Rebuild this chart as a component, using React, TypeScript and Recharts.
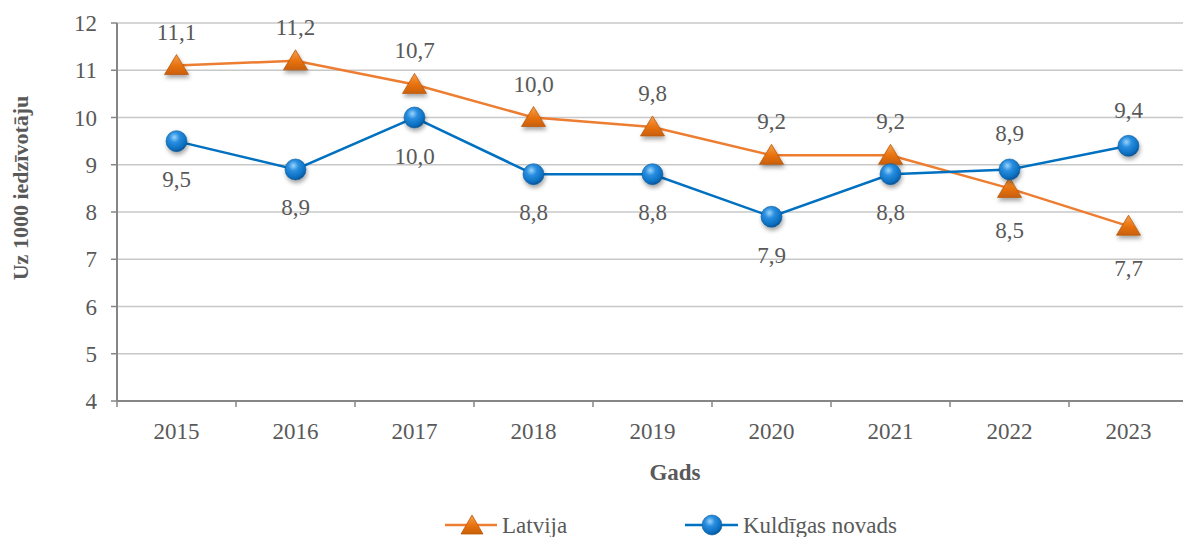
import { LineChart, Line, XAxis, YAxis, CartesianGrid, LabelList } from 'recharts';

const years = ['2015', '2016', '2017', '2018', '2019', '2020', '2021', '2022', '2023'];
const latvija = [11.1, 11.2, 10.7, 10.0, 9.8, 9.2, 9.2, 8.5, 7.7];
const kuldiga = [9.5, 8.9, 10.0, 8.8, 8.8, 7.9, 8.8, 8.9, 9.4];
const yTicks = [4, 5, 6, 7, 8, 9, 10, 11, 12];

const data = years.map((year, i) => ({ x: i + 0.5, year, latvija: latvija[i], kuldiga: kuldiga[i] }));
// boundary ticks (integers) + category centres (halves)
const xTicks = years.flatMap((_, i) => [i, i + 0.5]).concat(years.length);

const FONT = '"Liberation Serif", "Times New Roman", serif';
const TEXT = '#595959';
const AXIS = '#868686';
const GRID = '#C8C8C8';
const ORANGE_LINE = '#ED7D31';
const BLUE_LINE = '#0070C0';

const fmt = (v: number) => v.toFixed(1).replace('.', ',');

const Triangle = ({ cx, cy }: { cx: number; cy: number }) => (
  <path
    d={`M${cx},${cy - 11} L${cx + 12},${cy + 9} L${cx - 12},${cy + 9} Z`}
    fill="url(#gOrange)"
    stroke="#B85A0C"
    strokeWidth={0.8}
    filter="url(#shadow)"
  />
);

const Ball = ({ cx, cy }: { cx: number; cy: number }) => (
  <circle cx={cx} cy={cy} r={10.5} fill="url(#gBlue)" stroke="#0A5A9A" strokeWidth={0.6} filter="url(#shadow)" />
);

const XTick = (props: any) => {
  const { x, y, payload } = props;
  const v = payload.value;
  if (Number.isInteger(v)) {
    return <line x1={x} x2={x} y1={y} y2={y + 6} stroke={AXIS} strokeWidth={1.5} />;
  }
  return (
    <text x={x} y={y + 38} textAnchor="middle" fill={TEXT} fontSize={23} fontFamily={FONT}>
      {years[Math.floor(v)]}
    </text>
  );
};

const makeLabel = (aboveFrom: number, aboveBefore: boolean, upOff: number, downOff: number) => (props: any) => {
  const { x, y, value, index } = props;
  const above = aboveBefore ? index < aboveFrom : index >= aboveFrom;
  return (
    <text
      x={x}
      y={above ? y - upOff : y + downOff}
      textAnchor="middle"
      fill={TEXT}
      fontSize={23}
      fontFamily={FONT}
    >
      {fmt(value)}
    </text>
  );
};

export default function App() {
  return (
    <div style={{ position: 'absolute', left: 0, top: 0, width: 1183, height: 537, overflow: 'hidden', background: '#fff' }}>
      <LineChart width={1190} height={537} data={data} margin={{ top: 23, right: 2, left: 0, bottom: 0 }}>
        <defs>
          <linearGradient id="gOrange" x1="0" y1="0" x2="0" y2="1">
            <stop offset="0%" stopColor="#F7A04B" />
            <stop offset="55%" stopColor="#E8720F" />
            <stop offset="100%" stopColor="#C95F08" />
          </linearGradient>
          <radialGradient id="gBlue" cx="40%" cy="32%" r="70%">
            <stop offset="0%" stopColor="#9AD4FA" />
            <stop offset="35%" stopColor="#2A8EE0" />
            <stop offset="80%" stopColor="#0A6FC0" />
            <stop offset="100%" stopColor="#064F8E" />
          </radialGradient>
          <filter id="shadow" x="-50%" y="-50%" width="200%" height="200%">
            <feDropShadow dx="1" dy="3" stdDeviation="2" floodColor="#000" floodOpacity="0.35" />
          </filter>
        </defs>
        <CartesianGrid vertical={false} stroke={GRID} strokeWidth={1.5} />
        <XAxis
          dataKey="x"
          type="number"
          domain={[0, years.length]}
          ticks={xTicks}
          interval={0}
          height={136}
          tickSize={0}
          tickMargin={0}
          tickLine={false}
          axisLine={{ stroke: AXIS, strokeWidth: 2 }}
          tick={<XTick />}
        />
        <YAxis
          type="number"
          domain={[4, 12]}
          ticks={yTicks}
          interval={0}
          width={117}
          tickSize={6}
          tickMargin={14}
          tickLine={{ stroke: AXIS, strokeWidth: 1.5 }}
          axisLine={{ stroke: AXIS, strokeWidth: 2 }}
          tick={{ fill: TEXT, fontSize: 23, fontFamily: FONT }}
        />
        <Line
          dataKey="latvija"
          stroke={ORANGE_LINE}
          strokeWidth={2.5}
          isAnimationActive={false}
          activeDot={false}
          dot={(p: any) => <Triangle key={`t${p.index}`} cx={p.cx} cy={p.cy} />}
        >
          <LabelList dataKey="latvija" content={makeLabel(7, true, 26, 50)} />
        </Line>
        <Line
          dataKey="kuldiga"
          stroke={BLUE_LINE}
          strokeWidth={2.5}
          isAnimationActive={false}
          activeDot={false}
          dot={(p: any) => <Ball key={`b${p.index}`} cx={p.cx} cy={p.cy} />}
        >
          <LabelList dataKey="kuldiga" content={makeLabel(7, false, 28, 46)} />
        </Line>
      </LineChart>
      <svg width={1183} height={537} style={{ position: 'absolute', left: 0, top: 0, pointerEvents: 'none' }}>
        <defs>
          <linearGradient id="gOrangeL" x1="0" y1="0" x2="0" y2="1">
            <stop offset="0%" stopColor="#F7A04B" />
            <stop offset="55%" stopColor="#E8720F" />
            <stop offset="100%" stopColor="#C95F08" />
          </linearGradient>
          <radialGradient id="gBlueL" cx="40%" cy="32%" r="70%">
            <stop offset="0%" stopColor="#9AD4FA" />
            <stop offset="35%" stopColor="#2A8EE0" />
            <stop offset="80%" stopColor="#0A6FC0" />
            <stop offset="100%" stopColor="#064F8E" />
          </radialGradient>
        </defs>
        <text
          x={20}
          y={188}
          transform="rotate(-90 20 188)"
          textAnchor="middle"
          dominantBaseline="central"
          fill={TEXT}
          fontSize={22}
          fontWeight="bold"
          fontFamily={FONT}
        >
          Uz 1000 iedzīvotāju
        </text>
        <text x={675} y={472} textAnchor="middle" dominantBaseline="central" fill={TEXT} fontSize={23} fontWeight="bold" fontFamily={FONT}>
          Gads
        </text>
        <line x1={445} x2={497} y1={525} y2={525} stroke={ORANGE_LINE} strokeWidth={2.5} />
        <path d="M472,515 L483,534 L461,534 Z" fill="url(#gOrangeL)" stroke="#B85A0C" strokeWidth={0.8} />
        <text x={502} y={533} fill={TEXT} fontSize={23} fontFamily={FONT}>Latvija</text>
        <line x1={685} x2={738} y1={525} y2={525} stroke={BLUE_LINE} strokeWidth={2.5} />
        <circle cx={712} cy={525} r={10} fill="url(#gBlueL)" stroke="#0A5A9A" strokeWidth={0.6} />
        <text x={743} y={533} fill={TEXT} fontSize={23} fontFamily={FONT}>Kuldīgas novads</text>
      </svg>
    </div>
  );
}
